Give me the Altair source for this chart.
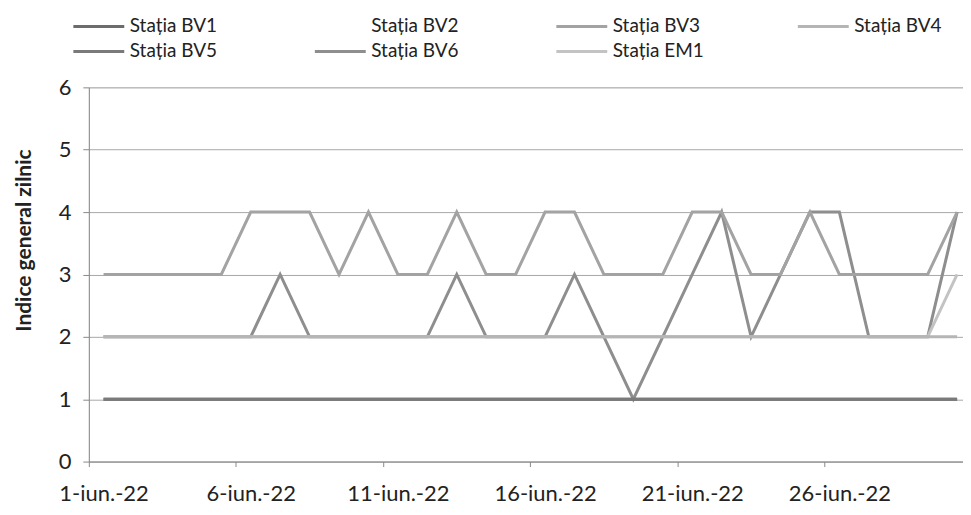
import altair as alt
import pandas as pd

# ---- data (day of June 2022, value) ----
days = list(range(1, 31))
series_names = ["Stația BV1", "Stația BV2", "Stația BV3", "Stația BV4",
                "Stația BV5", "Stația BV6", "Stația EM1"]
bv1 = [1] * 30
bv2 = [2] * 30
bv3 = [3, 3, 3, 3, 3, 4, 4, 4, 3, 4, 3, 3, 4, 3, 3, 4, 4, 3, 3, 3, 4, 4, 3, 3, 4, 3, 3, 3, 3, 4]
bv4 = [2] * 30
bv5 = [1] * 30
bv6 = [2, 2, 2, 2, 2, 2, 3, 2, 2, 2, 2, 2, 3, 2, 2, 2, 3, 2, 1, 2, 3, 4, 2, 3, 4, 4, 2, 2, 2, 4]
em1 = [2, 2, 2, 2, 2, 2, 2, 2, 2, 2, 2, 2, 2, 2, 2, 2, 2, 2, 2, 2, 2, 2, 2, 2, 2, 2, 2, 2, 2, 3]
tick_labels = ["1-iun.-22", "6-iun.-22", "11-iun.-22", "16-iun.-22", "21-iun.-22", "26-iun.-22"]
y_ticks = [0, 1, 2, 3, 4, 5, 6]

series_colors = ["#6c6c6c", "transparent", "#a3a3a3", "#b5b5b5", "#7a7a7a", "#8e8e8e", "#c3c3c3"]

values_by_name = {
    "Stația BV1": bv1, "Stația BV2": bv2, "Stația BV3": bv3, "Stația BV4": bv4,
    "Stația BV5": bv5, "Stația BV6": bv6, "Stația EM1": em1,
}
draw_order = ["Stația BV2", "Stația BV6", "Stația BV3", "Stația EM1",
              "Stația BV4", "Stația BV1", "Stația BV5"]

rows = []
for name in draw_order:
    for d, v in zip(days, values_by_name[name]):
        rows.append({"day": d, "value": v, "serie": name})
df = pd.DataFrame(rows)

FONT = "Lato"
PX_PER_DAY = 876 / 29.7
label_array = "[" + ",".join("'" + t + "'" for t in tick_labels) + "]"

chart = alt.Chart(df).mark_line(strokeWidth=3).encode(
    x=alt.X("day:Q",
            scale=alt.Scale(domain=[0.5, 30.2], nice=False, zero=False),
            axis=alt.Axis(values=[0.5, 5.5, 10.5, 15.5, 20.5, 25.5],
                          labelExpr=label_array + "[floor(datum.value / 5)]",
                          labelOffset=PX_PER_DAY / 2,
                          title=None, grid=False,
                          tickSize=5, tickColor="#8a8a8a",
                          domainColor="#8a8a8a",
                          labelFont=FONT, labelFontSize=22, labelColor="#222222",
                          labelPadding=17, labelFlush=False, labelOverlap=False)),
    y=alt.Y("value:Q",
            scale=alt.Scale(domain=[0, 6], nice=False),
            axis=alt.Axis(values=y_ticks, format="d",
                          title="Indice general zilnic",
                          titleFont=FONT, titleFontSize=21, titleFontWeight="bold",
                          titleColor="#222222", titlePadding=24, titleY=153,
                          grid=True, gridColor="#a8a8a8", gridWidth=1,
                          tickSize=6, tickColor="#8a8a8a", domainColor="#8a8a8a",
                          labelFont=FONT, labelFontSize=22, labelColor="#222222",
                          labelPadding=12)),
    color=alt.Color("serie:N",
                    scale=alt.Scale(domain=series_names, range=series_colors),
                    legend=alt.Legend(title=None, orient="none", direction="horizontal",
                                      legendX=-17, legendY=-70,
                                      columns=4, columnPadding=92, rowPadding=6,
                                      gridAlign="all",
                                      symbolType="stroke", symbolSize=2601,
                                      symbolStrokeWidth=3, labelOffset=4,
                                      clipHeight=18,
                                      labelFont=FONT, labelFontSize=19,
                                      labelColor="#222222")),
    detail="serie:N",
).properties(
    width=876, height=375,
    autosize=alt.AutoSizeParams(type="none"),
    padding={"left": 81, "top": 79, "right": 0, "bottom": 45},
).configure_view(stroke=None).configure(background="white")

chart.save("out.html", embed_options={"renderer": "svg", "actions": False})
